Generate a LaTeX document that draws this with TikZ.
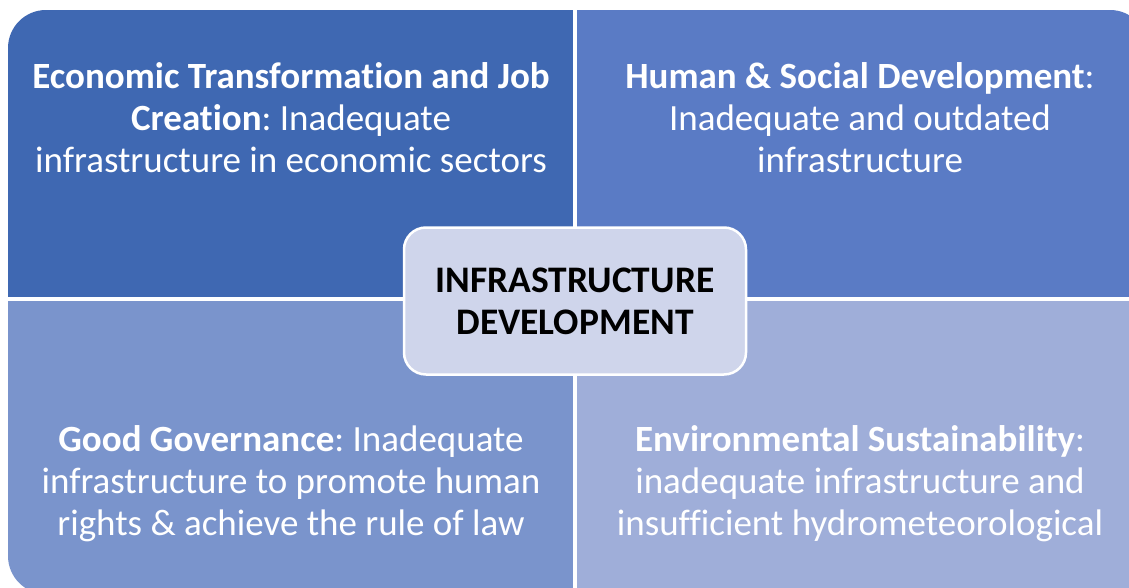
\documentclass[tikz,border=0pt]{standalone}
\usepackage{fontspec}
\setmainfont{Carlito}[Ligatures={NoCommon}]
\frenchspacing
\definecolor{qtl}{HTML}{3F68B2}
\definecolor{qtr}{HTML}{5A7BC5}
\definecolor{qbl}{HTML}{7A94CC}
\definecolor{qbr}{HTML}{9FAED9}
\definecolor{hub}{HTML}{CFD5EB}
\begin{document}
\begin{tikzpicture}[x=1pt,y=-1pt,
  quadtext/.style={text=white,align=center,
    font=\fontsize{37}{42}\selectfont,inner sep=0pt},
  hubbox/.style={draw=white,line width=2.5pt,fill=hub,rounded corners=22pt,
    minimum width=342pt,minimum height=147pt,align=center,
    font=\fontsize{37.5}{42}\selectfont\bfseries,text=black}]
\useasboundingbox (0,0) rectangle (1129,588);
% four coloured quarters inside one rounded frame
\begin{scope}
  \clip[rounded corners=38pt] (8,10) rectangle (1148,594);
  \fill[qtl] (8,10) rectangle (575,299);
  \fill[qtr] (575,10) rectangle (1148,299);
  \fill[qbl] (8,299) rectangle (575,594);
  \fill[qbr] (575,299) rectangle (1148,594);
  \draw[white,line width=3.5pt] (575,10) -- (575,594);
  \draw[white,line width=3.5pt] (8,299) -- (1148,299);
\end{scope}
% quarter texts
\node[quadtext] (econ) at (291,118) {\textbf{Economic Transformation and Job}\\ \textbf{Creation}: Inadequate\\ infrastructure in economic sectors};
\node[quadtext] (human) at (860,118) {\textbf{Human \& Social Development}:\\ Inadequate and outdated\\ infrastructure};
\node[quadtext] (gov) at (291,484) {\textbf{Good Governance}: Inadequate\\ infrastructure to promote human\\ rights \& achieve the rule of law};
\node[quadtext] (env) at (860,484) {\textbf{Environmental Sustainability}:\\ inadequate infrastructure and\\ insufficient hydrometeorological};
% central hub
\node[hubbox] (hub) at (575,301) {INFRASTRUCTURE\\ DEVELOPMENT};
\end{tikzpicture}
\end{document}
